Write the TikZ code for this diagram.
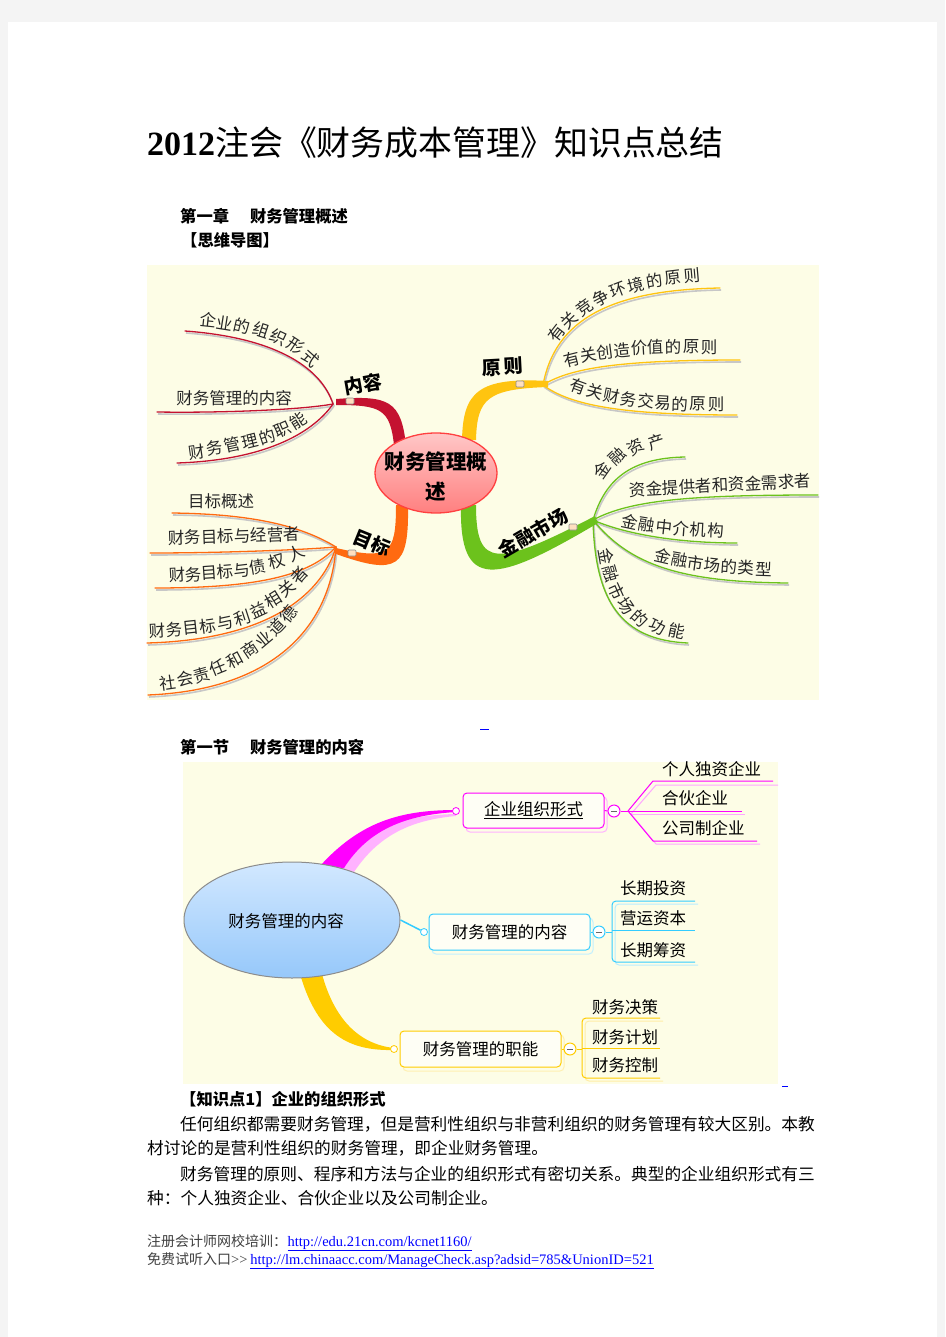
\documentclass[tikz,border=0pt]{standalone}
\usepackage{fontspec}
\setmainfont{Liberation Serif}
\newfontfamily\cjk{Noto Sans CJK SC}
\usetikzlibrary{shapes.geometric}
\definecolor{pagebg}{HTML}{F4F4F4}
\definecolor{cream}{HTML}{FDFDE6}
\definecolor{crim}{HTML}{C41230}
\definecolor{orng}{HTML}{FF6A10}
\definecolor{gold}{HTML}{FFC410}
\definecolor{grn}{HTML}{6CC21C}
\definecolor{mag}{HTML}{FF00FF}
\definecolor{cyn}{HTML}{33CCFF}
\definecolor{ylw}{HTML}{FFCC00}
\definecolor{linkblue}{HTML}{0000FF}
\definecolor{elltop}{HTML}{D2E8FF}
\definecolor{ellbot}{HTML}{96C8FA}
\newcommand\charlabel[2]{%
  \foreach \c/\px/\py/\a [count=\i] in {#2} \node[lbl, rotate=\a] (#1-\i) at (\px,\py) {\c};}
\tikzset{
  lbl/.style={font=\cjk\fontsize{16.5}{16.5}\selectfont, inner sep=0, text=black!85},
  blbl/.style={font=\cjk\bfseries\fontsize{19}{19}\selectfont, inner sep=0},
  twig/.style={draw=#1, line width=1.3pt, line cap=round,
    preaction={draw=black!22, line width=1.6pt, transform canvas={xshift=1pt, yshift=-2pt}}},
  knob/.style={draw=black!45, fill=orange!25, rounded corners=1pt, minimum width=8pt, minimum height=6pt, inner sep=0, line width=0.6pt},
  ctext/.style={font=\cjk\fontsize{16.5}{16.5}\selectfont, inner sep=0, anchor=west},
  mbox/.style={draw=#1, rounded corners=4pt, line width=1pt, fill=white!60!cream, inner sep=0,
    font=\cjk\fontsize{16.5}{16.5}\selectfont},
  bshadow/.style={draw=#1!30, rounded corners=4pt, line width=1pt},
  knot/.style={circle, draw=#1, fill=white, minimum size=7pt, inner sep=0, line width=0.8pt},
  minus/.style={circle, draw=#1, fill=white, minimum size=12pt, inner sep=0, line width=1pt,
    path picture={\draw[black!60, line width=1pt] ([xshift=-3pt]path picture bounding box.center) -- ([xshift=3pt]path picture bounding box.center);}},
  leaf/.style={draw=#1, line width=1pt},
  leafs/.style={draw=#1!35, line width=1pt},
  body/.style={anchor=base west, inner sep=0, font=\cjk\fontsize{16.7}{16.7}\selectfont},
  head/.style={anchor=base west, inner sep=0, font=\cjk\bfseries\fontsize{16.3}{16.3}\selectfont},
}
\begin{document}
\begin{tikzpicture}[x=1pt,y=-1pt]
\useasboundingbox (0,0) rectangle (945,1337);
\fill[pagebg] (0,0) rectangle (945,1337);
\fill[white] (8,22) rectangle (937,1337);

% ---------- title and headings
\node[anchor=base west, inner sep=0] (title) at (147,156)
  {\fontsize{34}{34}\selectfont\bfseries 2012{\cjk\mdseries\fontsize{33.9}{34}\selectfont 注会《财务成本管理》知识点总结}};
\node[head] (h1) at (180,223) {第一章\hspace{21pt}财务管理概述};
\node[head] (h2) at (181,247) {【思维导图】};

% ---------- mind map 1
\fill[cream] (147,265) rectangle (819,700);

\coordinate (f1) at (333,404);
\coordinate (f2) at (336,547);
\coordinate (f3) at (543,385);
\coordinate (f4) at (593,520);

% twigs: 内容
\coordinate (e1a) at (185,331); \coordinate (e1b) at (157,412); \coordinate (e1c) at (177,463);
\draw[twig=crim] (f1) .. controls (322,370) and (280,338) .. (e1a);
\draw[twig=crim] (f1) .. controls (300,410) and (220,413) .. (e1b);
\draw[twig=crim] (f1) .. controls (315,430) and (270,460) .. (e1c);
% twigs: 目标
\coordinate (e2a) at (172,513); \coordinate (e2b) at (150,553); \coordinate (e2c) at (155,588);
\coordinate (e2d) at (147,643); \coordinate (e2e) at (148,695);
\draw[twig=orng] (f2) .. controls (300,525) and (250,514) .. (e2a);
\draw[twig=orng] (f2) .. controls (300,550) and (220,553) .. (e2b);
\draw[twig=orng] (f2) .. controls (310,575) and (260,588) .. (e2c);
\draw[twig=orng] (f2) .. controls (320,600) and (260,640) .. (e2d);
\draw[twig=orng] (f2) .. controls (330,630) and (270,690) .. (e2e);
% twigs: 原则
\coordinate (e3a) at (720,288); \coordinate (e3b) at (740,360); \coordinate (e3c) at (737,415);
\draw[twig=gold] (f3) .. controls (555,320) and (610,290) .. (e3a);
\draw[twig=gold] (f3) .. controls (570,368) and (620,360) .. (e3b);
\draw[twig=gold] (f3) .. controls (570,405) and (620,415) .. (e3c);
% twigs: 金融市场
\coordinate (e4a) at (685,457); \coordinate (e4b) at (818,495); \coordinate (e4c) at (737,543);
\coordinate (e4d) at (788,583); \coordinate (e4e) at (688,643);
\draw[twig=grn] (f4) .. controls (605,480) and (630,458) .. (e4a);
\draw[twig=grn] (f4) .. controls (630,500) and (690,495) .. (e4b);
\draw[twig=grn] (f4) .. controls (620,532) and (670,543) .. (e4c);
\draw[twig=grn] (f4) .. controls (630,565) and (680,582) .. (e4d);
\draw[twig=grn] (f4) .. controls (595,600) and (620,640) .. (e4e);

% trunks
\fill[crim] (394,445) .. controls (390,409) and (381,405) .. (336,405) -- (336,399)
  .. controls (389,395) and (401,401) .. (406,445) -- cycle;
\fill[orng] (396,505) .. controls (396,555) and (389,560) .. (336,548) -- (336,554)
  .. controls (398,576) and (409,568) .. (408,505) -- cycle;
\fill[gold] (476,440) .. controls (477,398) and (488,389) .. (548,387) -- (548,381)
  .. controls (478,377) and (463,392) .. (462,440) -- cycle;
\fill[grn] (461,505) .. controls (459,592) and (495,584) .. (598,523) -- (595,516)
  .. controls (495,568) and (476,568) .. (476,505) -- cycle;

\node[knob] (k1) at (350,401) {};
\node[knob] (k2) at (352,553) {};
\node[knob] (k3) at (520,384) {};
\node[knob] (k4) at (573,527) {};

% center
\node[ellipse, minimum width=122pt, minimum height=80pt, draw=red!75, line width=1.3pt,
  top color=red!22, bottom color=red!50] (c1) at (436,473) {};
\node[align=center, inner sep=0, font=\cjk\bfseries\fontsize{20.5}{30}\selectfont] (c1t) at (436,477) {财务管理概\\述};

% main labels
\node[blbl, rotate=10] (l1) at (363,384) {内容};
\node[blbl, rotate=-22] (l2) at (372,543) {目标};
\node[blbl, rotate=3] (l3a) at (492,368) {原};
\node[blbl, rotate=3] (l3b) at (514,366) {则};
\node[blbl, rotate=30] (l4) at (533,533) {金融市场};

% leaf labels
\charlabel{ta1}{企/208/320/-6, 业/225/323/-9, 的/242/326/-13, 组/261/330/-18, 织/279/337/-25, 形/296/346/-33, 式/311/358/-42}
\node[lbl] (tb1) at (234,398) {财务管理的内容};
\charlabel{tc1}{财/197/452/8, 务/215/448/10, 管/232/445/12, 理/250/442/14, 的/267/437/18, 职/283/430/24, 能/298/421/32}

\node[lbl] (ta2) at (221,501) {目标概述};
\node[lbl, rotate=2] (tb2) at (234,536) {财务目标与经营者};
\charlabel{tc2}{财/177/575/3, 务/193/575/3, 目/209/573/4, 标/225/572/5, 与/242/570/7, 债/258/567/10, 权/277/561/16, 人/296/553/26}
\charlabel{td2}{财/157/631/3, 务/174/630/4, 目/191/628/6, 标/208/626/8, 与/225/623/12, 利/242/618/18, 益/258/610/25, 相/273/600/32, 关/287/588/40, 者/299/575/48}
\charlabel{te2}{社/168/683/8, 会/185/679/12, 责/202/675/16, 任/218/668/22, 和/235/660/28, 商/250/650/34, 业/264/639/40, 道/277/627/46, 德/289/614/52}

\charlabel{ta3}{有/557/333/52, 关/569/320/44, 竞/584/308/36, 争/601/298/28, 环/618/290/21, 境/636/285/15, 的/654/281/10, 原/673/278/7, 则/692/276/5}
\charlabel{tb3}{有/572/359/14, 关/589/355/10, 创/605/352/7, 造/622/350/5, 价/639/348/3, 值/656/347/2, 的/673/347/1, 原/691/347/0, 则/709/347/0}
\charlabel{tc3}{有/578/386/-20, 关/595/392/-15, 财/612/396/-11, 务/629/399/-8, 交/646/401/-5, 易/663/403/-3, 的/680/404/-2, 原/698/404/-1, 则/716/404/0}

\charlabel{ta4}{金/602/470/55, 融/617/456/44, 资/636/447/30, 产/656/442/18}
\node[lbl, rotate=3] (tb4) at (720,485) {资金提供者和资金需求者};
\charlabel{tc4}{金/630/522/-12, 融/647/525/-9, 中/664/527/-6, 介/681/529/-4, 机/698/530/-3, 构/716/531/-2}
\charlabel{td4}{金/663/556/-13, 融/680/560/-10, 市/696/563/-8, 场/712/565/-6, 的/729/567/-4, 类/746/568/-3, 型/764/569/-2}
\charlabel{te4}{金/606/556/-80, 融/611/574/-74, 市/617/591/-66, 场/626/606/-56, 的/640/618/-42, 功/658/627/-26, 能/677/631/-12}

\draw[linkblue, line width=0.8pt] (480,729) -- (489,729);

% ---------- section heading
\node[head] (h3) at (180,753) {第一节\hspace{21pt}财务管理的内容};

% ---------- mind map 2
\fill[cream] (183,762) rectangle (778,1084);

\fill[mag!30] (330,868) .. controls (366,826) and (406,815) .. (456,814) -- (456,816)
  .. controls (410,820) and (378,836) .. (354,872) -- cycle;
\fill[mag] (320,866) .. controls (360,822) and (400,810) .. (456,810) -- (456,812)
  .. controls (405,815) and (368,830) .. (344,868) -- cycle;
\fill[ylw] (300,974) .. controls (318,1036) and (350,1051) .. (394,1050) -- (394,1048)
  .. controls (358,1044) and (334,1018) .. (322,974) -- cycle;

\node[ellipse, minimum width=216pt, minimum height=116pt, draw=black!45, line width=1pt,
  top color=elltop, bottom color=ellbot] (c2) at (292,920) {};
\node[inner sep=0, font=\cjk\fontsize{16.5}{16.5}\selectfont] (c2t) at (286,921) {财务管理的内容};

\node[knot=mag] (n1) at (456,811) {};
\node[knot=cyn] (n2) at (424,932) {};
\node[knot=ylw] (n3) at (394,1049) {};
\draw[cyn, line width=1.5pt] (c2.east) -- (n2);

\draw[bshadow=mag] (466,797) rectangle (607,832);
\draw[bshadow=cyn] (432,918) rectangle (593,954);
\draw[bshadow=ylw] (403,1035) rectangle (564,1071);
\node[mbox=mag, minimum width=141pt, minimum height=35pt] (b1) at (533.5,810.5) {\underline{企业组织形式}};
\node[mbox=cyn, minimum width=161pt, minimum height=36pt] (b2) at (509.5,932) {财务管理的内容};
\node[mbox=ylw, minimum width=161pt, minimum height=36pt] (b3) at (480.5,1049) {财务管理的职能};

\node[minus=mag] (m1) at (614,811) {};
\node[minus=cyn] (m2) at (599,932) {};
\node[minus=ylw] (m3) at (570,1049) {};
\draw[leaf=mag] (b1.east) -- (m1.west);
\draw[leaf=cyn] (b2.east) -- (m2.west);
\draw[leaf=ylw] (b3.east) -- (m3.west);

% pink leaves
\coordinate (j1) at (628,811);
\coordinate (p1) at (773,781); \coordinate (p2) at (742,811); \coordinate (p3) at (757,841);
\draw[leafs=mag] (631,814) -- (656,785) -- (778,785);
\draw[leafs=mag] (631,814) -- (656,844) -- (760,844);
\draw[leafs=mag] (631,814) -- (745,814);
\draw[leaf=mag] (m1.east) -- (j1);
\draw[leaf=mag] (j1) -- (653,781) -- (p1);
\draw[leaf=mag] (j1) -- (p2);
\draw[leaf=mag] (j1) -- (653,841) -- (p3);
\node[ctext] (s1) at (662,769) {个人独资企业};
\node[ctext] (s2) at (662,798) {合伙企业};
\node[ctext] (s3) at (662,828) {公司制企业};

% cyan leaves
\coordinate (j2) at (612,932);
\coordinate (q1) at (695,901); \coordinate (q2) at (695,930); \coordinate (q3) at (695,962);
\draw[leafs=cyn, rounded corners=4pt] (698,904) -- (615,904) -- (615,965) -- (698,965);
\draw[leaf=cyn] (m2.east) -- (j2);
\draw[leaf=cyn, rounded corners=4pt] (q1) -- (612,901) -- (612,962) -- (q3);
\draw[leaf=cyn] (612,930) -- (q2);
\node[ctext] (s4) at (620,888) {长期投资};
\node[ctext] (s5) at (620,918) {营运资本};
\node[ctext] (s6) at (620,950) {长期筹资};

% yellow leaves
\coordinate (j3) at (582,1049);
\coordinate (r1) at (660,1018); \coordinate (r2) at (660,1048); \coordinate (r3) at (660,1078);
\draw[leafs=ylw, rounded corners=4pt] (663,1021) -- (585,1021) -- (585,1081) -- (663,1081);
\draw[leaf=ylw] (m3.east) -- (j3);
\draw[leaf=ylw, rounded corners=4pt] (r1) -- (582,1018) -- (582,1078) -- (r3);
\draw[leaf=ylw] (582,1048) -- (r2);
\node[ctext] (s7) at (592,1007) {财务决策};
\node[ctext] (s8) at (592,1037) {财务计划};
\node[ctext] (s9) at (592,1065) {财务控制};

\draw[linkblue, line width=0.8pt] (782,1086) -- (788,1086);

% ---------- body text
\node[head] (h4) at (180,1105) {【知识点1】企业的组织形式};
\node[body] (p1a) at (180,1130) {任何组织都需要财务管理，但是营利性组织与非营利组织的财务管理有较大区别。本教};
\node[body] (p1b) at (147,1154) {材讨论的是营利性组织的财务管理，即企业财务管理。};
\node[body] (p2a) at (180,1180) {财务管理的原则、程序和方法与企业的组织形式有密切关系。典型的企业组织形式有三};
\node[body] (p2b) at (147,1204) {种：个人独资企业、合伙企业以及公司制企业。};

% ---------- footer
\node[anchor=base west, inner sep=0, font=\cjk\fontsize{14}{14}\selectfont, text=black!75] (ft1) at (147,1246) {注册会计师网校培训：};
\node[anchor=base west, inner sep=0, font=\fontsize{14.5}{14.5}\selectfont, text=linkblue] (lk1) at (ft1.base east) {\underline{http://edu.21cn.com/kcnet1160/}};
\node[anchor=base west, inner sep=0, font=\fontsize{14.5}{14.5}\selectfont, text=black!75] (ft2) at (147,1264) {{\cjk\fontsize{14}{14}\selectfont 免费试听入口}>\kern0pt>};
\node[anchor=base west, inner sep=0, font=\fontsize{14.5}{14.5}\selectfont, text=linkblue] (lk2) at (ft2.base east) {\,\underline{http://lm.chinaacc.com/ManageCheck.asp?adsid=785\&UnionID=521}};
\end{tikzpicture}
\end{document}
